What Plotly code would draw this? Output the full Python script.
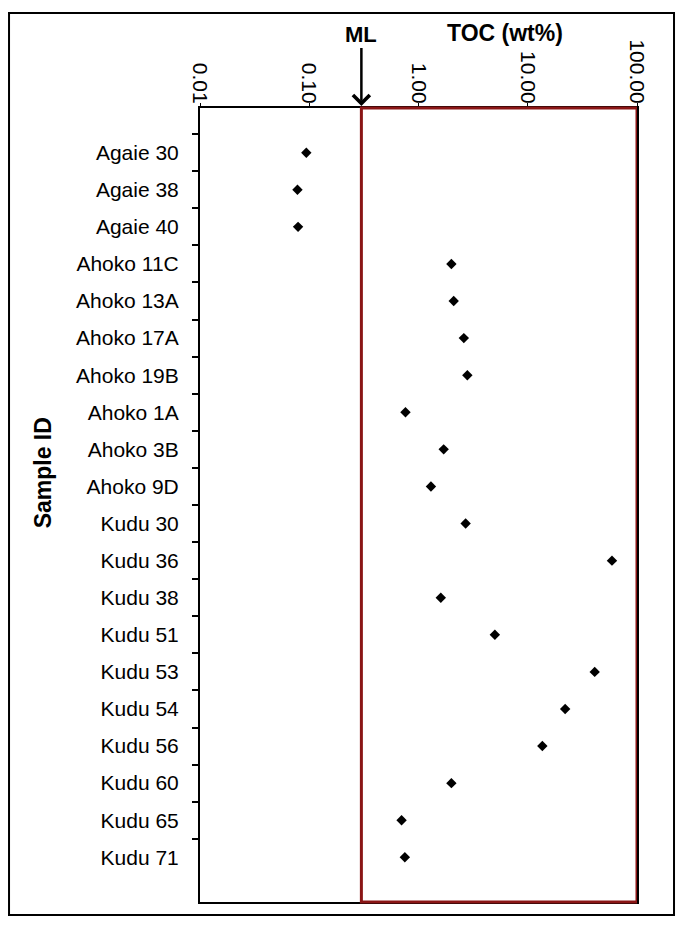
import math
import plotly.graph_objects as go

samples = ["Agaie 30", "Agaie 38", "Agaie 40", "Ahoko 11C", "Ahoko 13A", "Ahoko 17A",
           "Ahoko 19B", "Ahoko 1A", "Ahoko 3B", "Ahoko 9D", "Kudu 30", "Kudu 36",
           "Kudu 38", "Kudu 51", "Kudu 53", "Kudu 54", "Kudu 56", "Kudu 60",
           "Kudu 65", "Kudu 71"]
toc = [0.094, 0.078, 0.079, 2.0, 2.1, 2.6,
       2.8, 0.76, 1.7, 1.3, 2.7, 59,
       1.6, 5.0, 41, 22, 13.6, 2.0,
       0.70, 0.75]
ml_value = 0.3
x_tickvals = [0.01, 0.1, 1, 10, 100]
x_ticktext = ["0.01", "0.10", "1.00", "10.00", "100.00"]

FONT = "Liberation Sans, Arial, sans-serif"

fig = go.Figure()
fig.add_trace(go.Scatter(
    x=toc, y=samples, mode="markers",
    marker=dict(symbol="diamond", size=8, color="black"),
    showlegend=False, cliponaxis=False,
))

fig.update_layout(
    width=668, height=926,
    margin=dict(l=192, r=39, t=100, b=32),
    paper_bgcolor="white", plot_bgcolor="white",
    font=dict(family=FONT, size=21, color="black"),
    xaxis=dict(
        type="log", range=[-2, 2], side="top",
        tickvals=x_tickvals, ticktext=x_ticktext, tickangle=90,
        showgrid=False, zeroline=False,
        showline=True, linecolor="black", linewidth=2, mirror=True,
        ticks="outside", ticklen=3, tickcolor="black",
        tickfont=dict(size=21, family=FONT),
        ticklabelstandoff=-8,
    ),
    yaxis=dict(
        type="category", categoryorder="array", categoryarray=samples,
        autorange="reversed",
        showgrid=False, zeroline=False,
        showline=True, linecolor="black", linewidth=2, mirror=True,
        ticks="outside", tickson="boundaries", ticklen=6, tickwidth=2, tickcolor="black",
        tickfont=dict(size=21, family=FONT),
        ticklabelstandoff=15,
    ),
)

# Red box from ML to 100
fig.add_shape(type="rect", xref="x", yref="paper",
              x0=ml_value, x1=100, y0=0, y1=1,
              line=dict(color="#8a1515", width=3), layer="above")

# Outer frame
fig.add_shape(type="rect", xref="paper", yref="paper",
              x0=-0.4370, x1=1.0847, y0=-0.0164, y1=1.1196,
              line=dict(color="black", width=2))

# ML arrow
fig.add_annotation(x=math.log10(ml_value), y=1, xref="x", yref="paper",
                   text="<b>ML</b>", showarrow=True, ax=0, ay=-74,
                   arrowhead=4, arrowsize=1.3, arrowwidth=2.5, arrowcolor="black",
                   standoff=2, font=dict(size=22, family=FONT))

fig.add_annotation(x=0.698, y=1.094, xref="paper", yref="paper",
                   xanchor="center", yanchor="middle",
                   text="<b>TOC (wt%)</b>", showarrow=False,
                   font=dict(size=23, family=FONT))

fig.add_annotation(x=-0.359, y=0.540, xref="paper", yref="paper",
                   xanchor="center", yanchor="middle",
                   text="<b>Sample ID</b>", showarrow=False, textangle=-90,
                   font=dict(size=23, family=FONT))

fig.write_html("out.html")
